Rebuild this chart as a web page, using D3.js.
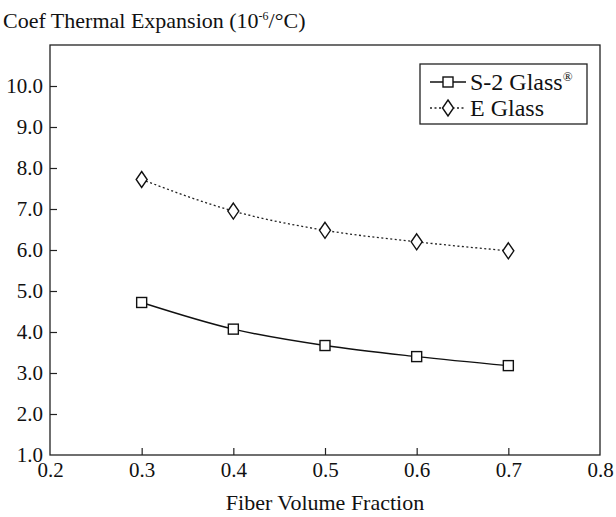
<!DOCTYPE html>
<html><head><meta charset="utf-8">
<script src="https://cdn.jsdelivr.net/npm/d3@7"></script>
<style>body{margin:0;background:#fff}svg{display:block}text{font-family:"Liberation Serif","Times New Roman",serif;fill:#111}</style>
</head><body><svg id="c" width="616" height="517"></svg>
<script>
const fiberFractions = [0.3, 0.4, 0.5, 0.6, 0.7];
const s2Glass = [4.72, 4.07, 3.67, 3.40, 3.18];
const eGlass = [7.72, 6.95, 6.48, 6.20, 5.98];
const xTicks = [0.2, 0.3, 0.4, 0.5, 0.6, 0.7, 0.8];
const yTicks = [1, 2, 3, 4, 5, 6, 7, 8, 9, 10];

const svg = d3.select("#c");
const m = {l: 50, r: 600, t: 45, b: 455};
const x = d3.scaleLinear().domain([0.2, 0.8]).range([m.l, m.r]);
const y = d3.scaleLinear().domain([1, 11]).range([m.b, m.t]);

// title
const t = svg.append("text").attr("x", 3).attr("y", 28).style("font-size", "22px");
t.append("tspan").text("Coef Thermal Expansion (10");
t.append("tspan").attr("dy", -8).style("font-size", "12px").text("-6");
t.append("tspan").attr("dy", 8).text("/°C)");

// frame
svg.append("rect").attr("x", m.l).attr("y", m.t).attr("width", m.r - m.l).attr("height", m.b - m.t)
  .attr("fill", "none").attr("stroke", "#222").attr("stroke-width", 1.3);

// axes (inward ticks)
const xAxis = d3.axisBottom(x).tickValues(xTicks).tickSize(-7).tickPadding(7).tickFormat(d3.format(".1f"));
const gx = svg.append("g").attr("transform", `translate(0,${m.b})`).call(xAxis);
const yAxis = d3.axisLeft(y).tickValues(yTicks).tickSize(-7).tickPadding(7).tickFormat(d3.format(".1f"));
const gy = svg.append("g").attr("transform", `translate(${m.l},0)`).call(yAxis);
[gx, gy].forEach(g => {
  g.select(".domain").remove();
  g.selectAll(".tick line").attr("stroke", "#222").attr("stroke-width", 1.2);
  g.selectAll("text").style("font-size", "21px").attr("fill", "#111");
});
gx.selectAll(".tick").filter(d => d === 0.2 || d === 0.8).select("line").remove();
gy.selectAll(".tick").filter(d => d === 1).select("line").remove();

svg.append("text").attr("x", (m.l + m.r) / 2).attr("y", 510).attr("text-anchor", "middle")
  .style("font-size", "22px").text("Fiber Volume Fraction");

const line = d3.line().x(d => x(d[0])).y(d => y(d[1])).curve(d3.curveMonotoneX);
const s2 = fiberFractions.map((f, i) => [f, s2Glass[i]]);
const eg = fiberFractions.map((f, i) => [f, eGlass[i]]);

svg.append("path").datum(s2).attr("d", line).attr("fill", "none").attr("stroke", "#111").attr("stroke-width", 1.4);
svg.append("path").datum(eg).attr("d", line).attr("fill", "none").attr("stroke", "#222").attr("stroke-width", 1.3).attr("stroke-dasharray", "2,2.5");

const sq = 10;
function square(g, cx, cy) {
  g.append("rect").attr("x", cx - sq / 2).attr("y", cy - sq / 2).attr("width", sq).attr("height", sq)
    .attr("fill", "#fff").attr("stroke", "#111").attr("stroke-width", 1.4);
}
function diamond(g, cx, cy) {
  g.append("path").attr("d", `M${cx},${cy - 8}L${cx + 5.5},${cy}L${cx},${cy + 8}L${cx - 5.5},${cy}Z`)
    .attr("fill", "#fff").attr("stroke", "#111").attr("stroke-width", 1.4);
}
s2.forEach(d => square(svg, x(d[0]), y(d[1])));
eg.forEach(d => diamond(svg, x(d[0]), y(d[1])));

// legend
const lg = svg.append("g");
lg.append("rect").attr("x", 420).attr("y", 64).attr("width", 167).attr("height", 60)
  .attr("fill", "#fff").attr("stroke", "#222").attr("stroke-width", 1.3);
lg.append("line").attr("x1", 430).attr("x2", 466).attr("y1", 82).attr("y2", 82).attr("stroke", "#111").attr("stroke-width", 1.4);
square(lg, 448, 82);
lg.append("line").attr("x1", 430).attr("x2", 466).attr("y1", 108).attr("y2", 108).attr("stroke", "#222").attr("stroke-width", 1.3).attr("stroke-dasharray", "2,2.5");
diamond(lg, 448, 108);
const l1 = lg.append("text").attr("x", 470).attr("y", 90).style("font-size", "24px");
l1.append("tspan").text("S-2 Glass");
l1.append("tspan").attr("dy", -9).style("font-size", "13px").text("®");
lg.append("text").attr("x", 470).attr("y", 116).style("font-size", "24px").text("E Glass");
</script></body></html>
